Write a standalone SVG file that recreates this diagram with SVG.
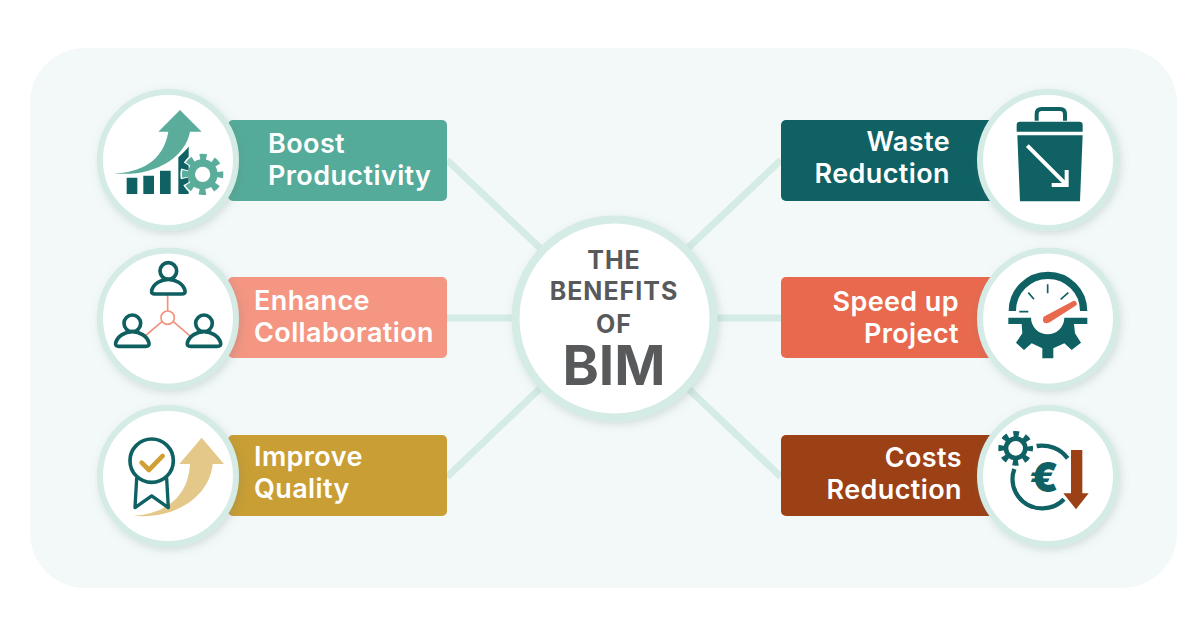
<svg xmlns="http://www.w3.org/2000/svg" width="1200" height="640" viewBox="0 0 1200 640">
<style>
.lbl{font-family:"Inter","Liberation Sans",sans-serif;font-weight:600;font-size:27px;letter-spacing:.4px;fill:#fff}
.end{text-anchor:end}
.ctr{font-family:"Inter","Liberation Sans",sans-serif;font-weight:700;fill:#58595b;text-anchor:middle}
.ring{fill:#fff;stroke:#d5ebe5;stroke-width:6;filter:url(#sh)}
.conn{stroke:#d5ebe5;stroke-width:7;fill:none}
.teal{fill:#0f6164}
</style>
<defs>
<filter id="sh" x="-20%" y="-20%" width="140%" height="140%"><feDropShadow dx="2" dy="3" stdDeviation="4" flood-color="#5a7a74" flood-opacity=".22"/></filter>
<g id="person"><circle cx="235" cy="93" r="25"/><path d="M185 152C190 130 215 118 235 118C255 118 280 130 285 152Q287 162 275 162H195Q183 162 185 152Z"/></g>
</defs>
<rect x="30" y="48" width="1147" height="540" rx="55" fill="#f3f9f9"/>
<g id="connectors" class="conn">
<line x1="447" y1="160" x2="614" y2="318"/>
<line x1="447" y1="318" x2="614" y2="318"/>
<line x1="447" y1="477" x2="614" y2="318"/>
<line x1="781" y1="160" x2="614" y2="318"/>
<line x1="781" y1="318" x2="614" y2="318"/>
<line x1="781" y1="477" x2="614" y2="318"/>
</g>
<g id="node-center">
<circle class="ring" cx="614.5" cy="318.500" r="99" style="stroke-width:8"/>
<text class="ctr" x="614" y="269" font-size="25" letter-spacing="1">THE</text>
<text class="ctr" x="614" y="300" font-size="25" letter-spacing="1">BENEFITS</text>
<text class="ctr" x="614" y="333" font-size="25" letter-spacing="1">OF</text>
<text class="ctr" x="614" y="385" font-size="55">BIM</text>
</g>
<g id="node-boost">
<rect x="228" y="120" width="219" height="81" rx="5" fill="#55ab99"/>
<text class="lbl" x="268" y="153">Boost</text><text class="lbl" x="268" y="185">Productivity</text>
<circle class="ring" cx="168" cy="160" r="68"/>
<g transform="translate(90 80) scale(.3333)">
<path class="teal" d="M110 293H142V342H110ZM160 287H192V342H160ZM210 272H242V342H210ZM265 232L296 190V342H265Z"/>
<path fill="#fff" d="M60 288C160 290 250 262 300 195V160H230L60 270Z"/>
<path fill="#5aad9b" d="M70 280C150 278 220 245 235 155H205L270 90L335 155H300C285 235 190 292 70 280Z"/>
<circle cx="338" cy="283" r="52" fill="none" stroke="#fff" stroke-width="30" stroke-dasharray="26 14.84" stroke-dashoffset="13"/>
<circle cx="338" cy="283" r="52" fill="none" stroke="#5aad9b" stroke-width="20" stroke-dasharray="20 20.84" stroke-dashoffset="10"/>
<circle cx="338" cy="283" r="34" fill="#fff" stroke="#5aad9b" stroke-width="22"/>
</g>
</g>
<g id="node-collab">
<rect x="228" y="277" width="219" height="81" rx="5" fill="#f49682"/>
<text class="lbl" x="254" y="310">Enhance</text><text class="lbl" x="254" y="342">Collaboration</text>
<circle class="ring" cx="168" cy="318.500" r="68"/>
<g transform="translate(90 240) scale(.3333)">
<path fill="none" stroke="#f0937f" stroke-width="5" d="M233 165V213M216 245L165 288M250 245L300 288"/>
<circle cx="233" cy="233" r="20" fill="#fff" stroke="#f0937f" stroke-width="5"/>
<g fill="#fff" stroke="#0f5f61" stroke-width="11">
<use href="#person"/><use href="#person" x="-108" y="157"/><use href="#person" x="107" y="157"/>
</g>
</g>
</g>
<g id="node-quality">
<rect x="228" y="435" width="219" height="81" rx="5" fill="#c99e34"/>
<text class="lbl" x="254" y="466">Improve</text><text class="lbl" x="254" y="498">Quality</text>
<circle class="ring" cx="168" cy="476" r="68"/>
<g transform="translate(90 395) scale(.3333)">
<path fill="#e3c88a" d="M130 362C220 358 295 310 300 207H268L335 128L402 207H368C360 300 260 375 130 362Z"/>
<path fill="#fff" stroke="#0f6164" stroke-width="10" stroke-linejoin="round" d="M140 250L135 338L185 303L235 338L230 250Z"/>
<circle cx="185" cy="197" r="65" fill="#fff" stroke="#0f6164" stroke-width="11"/>
<path fill="none" stroke="#cf9f33" stroke-width="14" stroke-linecap="round" stroke-linejoin="round" d="M155 203L177 225L218 183"/>
</g>
</g>
<g id="node-waste">
<rect x="781" y="120" width="219" height="81" rx="5" fill="#0f6164"/>
<text class="lbl end" x="950" y="151">Waste</text><text class="lbl end" x="950" y="183">Reduction</text>
<circle class="ring" cx="1048" cy="160" r="68"/>
<g transform="translate(970 80) scale(.3333)">
<path fill="none" stroke="#0f6164" stroke-width="12" d="M200 122V102Q200 87 215 87H270Q285 87 285 102V122"/>
<path class="teal" d="M140 155V135Q140 125 150 125H328Q338 125 338 135V155ZM142 166H338L330 364H150Z"/>
<path fill="none" stroke="#fff" stroke-width="12" d="M172 197L288 313M290 270V315H245"/>
</g>
</g>
<g id="node-speed">
<rect x="781" y="277" width="219" height="81" rx="5" fill="#e8694e"/>
<text class="lbl end" x="959" y="311">Speed up</text><text class="lbl end" x="959" y="343">Project</text>
<circle class="ring" cx="1048" cy="318.500" r="68"/>
<g transform="translate(970 240) scale(.3333)">
<path fill="none" stroke="#0f6164" stroke-width="22" d="M127 213A106 106 0 0 1 341 213"/>
<path fill="none" stroke="#0f6164" stroke-width="5" d="M148 215H175M175 158L192 178M233 133V160M272 178L295 158"/>
<path class="teal" d="M115 233H183A50 50 0 0 0 283 233H352V252H312L315 280L333 308L305 330L283 310L250 325V355H217V325L185 310L162 330L138 308L157 280L155 252H115Z"/>
<path fill="#e8694e" stroke="#e8694e" stroke-width="4" stroke-linejoin="round" d="M222 232L312 184Q320 186 318 194L238 245Q226 252 221 243Z"/>
</g>
</g>
<g id="node-costs">
<rect x="781" y="435" width="219" height="81" rx="5" fill="#9c4016"/>
<text class="lbl end" x="962" y="467">Costs</text><text class="lbl end" x="962" y="499">Reduction</text>
<circle class="ring" cx="1048" cy="476" r="68"/>
<g transform="translate(970 395) scale(.3333)">
<circle cx="137" cy="160" r="43" fill="none" stroke="#0f6164" stroke-width="18" stroke-dasharray="16.8 17" stroke-dashoffset="8.4"/>
<circle cx="137" cy="160" r="29" fill="#fff" stroke="#0f6164" stroke-width="14"/>
<path fill="none" stroke="#0f6164" stroke-width="13" d="M200 153A97 97 0 0 1 293 190M133 222A88 88 0 0 0 218 340A88 88 0 0 0 282 313"/>
<text x="222" y="291" font-family="Inter,'Liberation Sans',sans-serif" font-weight="900" font-size="125" fill="#0f6164" text-anchor="middle">€</text>
<path fill="#9c4016" d="M303 165H337V295H356L318 343L280 295H303Z"/>
</g>
</g>
</svg>
